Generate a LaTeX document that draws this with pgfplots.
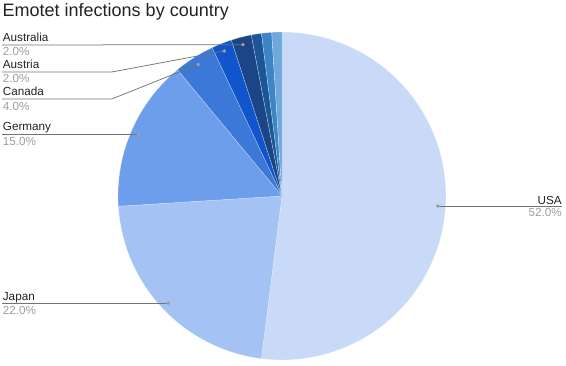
\documentclass[border=0pt]{standalone}
\usepackage{pgfplots}
\pgfplotsset{compat=1.18}
\usepackage{fontspec}
\setmainfont{Liberation Sans}
\definecolor{cUSA}{HTML}{C9DAF8}
\definecolor{cJapan}{HTML}{A4C2F4}
\definecolor{cGermany}{HTML}{6D9EEB}
\definecolor{cCanada}{HTML}{3C78D8}
\definecolor{cAustria}{HTML}{1155CC}
\definecolor{cAustralia}{HTML}{1C4587}
\definecolor{cO1}{HTML}{1B5797}
\definecolor{cO2}{HTML}{3D85C6}
\definecolor{cO3}{HTML}{6FA8DC}
\definecolor{lead}{HTML}{737373}
\definecolor{dotc}{HTML}{9E9E9E}
\definecolor{pct}{HTML}{9E9E9E}
\definecolor{txt}{HTML}{222222}
\begin{document}
\begin{tikzpicture}
\path[use as bounding box] (0,0) rectangle (566pt,365pt);
\begin{axis}[hide axis, scale only axis, width=566pt, height=365pt,
  xmin=0, xmax=566, ymin=0, ymax=365, clip=false,
  wedge/.style={draw=white, draw opacity=0.55, line width=0.35pt, line join=round, samples=80, no marks}]
% cumulative percentages: USA 52, Japan 22, Germany 15, Canada 4, Austria 2, Australia 2, others 1,1,1
\addplot[wedge, fill=cUSA, domain=0:52] ({282+164*sin(3.6*x)},{169+164*cos(3.6*x)}) -- (axis cs:282,169) -- cycle;
\addplot[wedge, fill=cJapan, domain=52:74] ({282+164*sin(3.6*x)},{169+164*cos(3.6*x)}) -- (axis cs:282,169) -- cycle;
\addplot[wedge, fill=cGermany, domain=74:89] ({282+164*sin(3.6*x)},{169+164*cos(3.6*x)}) -- (axis cs:282,169) -- cycle;
\addplot[wedge, fill=cCanada, domain=89:93, samples=20] ({282+164*sin(3.6*x)},{169+164*cos(3.6*x)}) -- (axis cs:282,169) -- cycle;
\addplot[wedge, fill=cAustria, domain=93:95, samples=10] ({282+164*sin(3.6*x)},{169+164*cos(3.6*x)}) -- (axis cs:282,169) -- cycle;
\addplot[wedge, fill=cAustralia, domain=95:97, samples=10] ({282+164*sin(3.6*x)},{169+164*cos(3.6*x)}) -- (axis cs:282,169) -- cycle;
\addplot[wedge, fill=cO1, domain=97:98, samples=6] ({282+164*sin(3.6*x)},{169+164*cos(3.6*x)}) -- (axis cs:282,169) -- cycle;
\addplot[wedge, fill=cO2, domain=98:99, samples=6] ({282+164*sin(3.6*x)},{169+164*cos(3.6*x)}) -- (axis cs:282,169) -- cycle;
\addplot[wedge, fill=cO3, domain=99:100, samples=6] ({282+164*sin(3.6*x)},{169+164*cos(3.6*x)}) -- (axis cs:282,169) -- cycle;
% leader lines
\draw[lead, line width=0.75pt] (axis cs:437.7,159) -- (axis cs:562,159);
\draw[lead, line width=0.75pt] (axis cs:2,61.7) -- (axis cs:168.3,61.7);
\draw[lead, line width=0.75pt] (axis cs:2,230.7) -- (axis cs:138.6,230.7);
\draw[lead, line width=0.75pt] (axis cs:2,266) -- (axis cs:111.7,266) -- (axis cs:198.2,300.5);
\draw[lead, line width=0.75pt] (axis cs:2,293) -- (axis cs:111.7,293) -- (axis cs:224.3,314);
\draw[lead, line width=0.75pt] (axis cs:2,320) -- (axis cs:242.9,320.3);
\addplot[only marks, mark=*, mark size=1.6pt, color=dotc] coordinates {
 (437.7,159) (168.3,61.7) (138.6,230.7) (198.2,300.5) (224.3,314) (242.9,320.3)};
% labels
\node[anchor=base west, inner sep=0, font=\fontsize{18}{21}\selectfont, text=txt] at (axis cs:2.5,348.7) {Emotet infections by country};
\tikzset{lab/.style={inner sep=0, font=\fontsize{11.7}{13}\selectfont, text=txt},
         pc/.style={inner sep=0, font=\fontsize{11.7}{13}\selectfont, text=pct}}
\node[lab, anchor=base east] at (axis cs:562,161) {USA};
\node[pc, anchor=base east] at (axis cs:562,149) {52.0\%};
\node[lab, anchor=base west] at (axis cs:2.7,65) {Japan};
\node[pc, anchor=base west] at (axis cs:2.7,51) {22.0\%};
\node[lab, anchor=base west] at (axis cs:2.7,234.3) {Germany};
\node[pc, anchor=base west] at (axis cs:2.7,219.5) {15.0\%};
\node[lab, anchor=base west] at (axis cs:2.7,269.3) {Canada};
\node[pc, anchor=base west] at (axis cs:2.7,255) {4.0\%};
\node[lab, anchor=base west] at (axis cs:2.7,296.7) {Austria};
\node[pc, anchor=base west] at (axis cs:2.7,282.4) {2.0\%};
\node[lab, anchor=base west] at (axis cs:2.7,323.3) {Australia};
\node[pc, anchor=base west] at (axis cs:2.7,309.3) {2.0\%};
\end{axis}
\end{tikzpicture}
\end{document}
